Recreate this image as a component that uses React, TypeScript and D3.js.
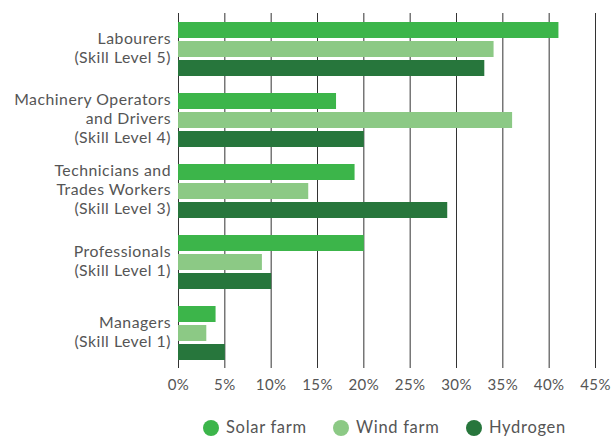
import React from "react";
import * as d3 from "d3";

const categories: string[][] = [
  ["Labourers", "(Skill Level 5)"],
  ["Machinery Operators", "and Drivers", "(Skill Level 4)"],
  ["Technicians and", "Trades Workers", "(Skill Level 3)"],
  ["Professionals", "(Skill Level 1)"],
  ["Managers", "(Skill Level 1)"],
];
const seriesNames = ["Solar farm", "Wind farm", "Hydrogen"];
const solar = [41, 17, 19, 20, 4];
const wind = [34, 36, 14, 9, 3];
const hydrogen = [33, 20, 29, 10, 5];
const ticks = [0, 5, 10, 15, 20, 25, 30, 35, 40, 45];
const colors = ["#3cb54a", "#8cc985", "#27763c"];

export default function App() {
  const W = 611, H = 437;
  const x = d3.scaleLinear().domain([0, 45]).range([178.5, 595.5]);
  const pad = 17 / 71;
  const y = d3
    .scaleBand<number>()
    .domain(d3.range(categories.length))
    .range([13.5, 368.5])
    .paddingInner(pad)
    .paddingOuter(pad / 2);
  const series = [solar, wind, hydrogen];
  const inner = d3.scaleBand<number>().domain([0, 1, 2]).range([0, y.bandwidth()]).paddingInner(3 / 19);
  const font = "Lato, sans-serif";
  const textColor = "#555";
  const legendX = [211, 341, 474];

  return (
    <svg width={W} height={H} style={{ position: "absolute", left: 0, top: 0 }} fontFamily={font}>
      <rect width={W} height={H} fill="#fff" />
      {ticks.map((t) => (
        <g key={t}>
          <line x1={x(t)} x2={x(t)} y1={13} y2={368} stroke="#333" strokeWidth={1} />
          <text x={x(t)} y={390} textAnchor="middle" fontSize={15} letterSpacing={0.4} fill={textColor}>
            {t}%
          </text>
        </g>
      ))}
      {categories.map((c, i) => (
        <g key={i}>
          {series.map((s, j) => (
            <rect
              key={j}
              x={x(0) - 0.5}
              y={(y(i) as number) + (inner(j) as number)}
              width={x(s[i]) - x(0) + 0.5}
              height={inner.bandwidth()}
              fill={colors[j]}
            />
          ))}
          {c.map((line, k) => {
            const cy = (y(i) as number) + y.bandwidth() / 2 - 1.5 + (k - (c.length - 1) / 2) * 19;
            return (
              <text key={k} x={171} y={cy} dy="0.35em" textAnchor="end" fontSize={15.8} letterSpacing={0.5} fill={textColor}>
                {line}
              </text>
            );
          })}
        </g>
      ))}
      {seriesNames.map((n, j) => (
        <g key={n}>
          <circle cx={legendX[j]} cy={428} r={8} fill={colors[j]} />
          <text x={legendX[j] + 15} y={427} dy="0.35em" fontSize={16.5} letterSpacing={0.7} fill={textColor}>
            {n}
          </text>
        </g>
      ))}
    </svg>
  );
}
